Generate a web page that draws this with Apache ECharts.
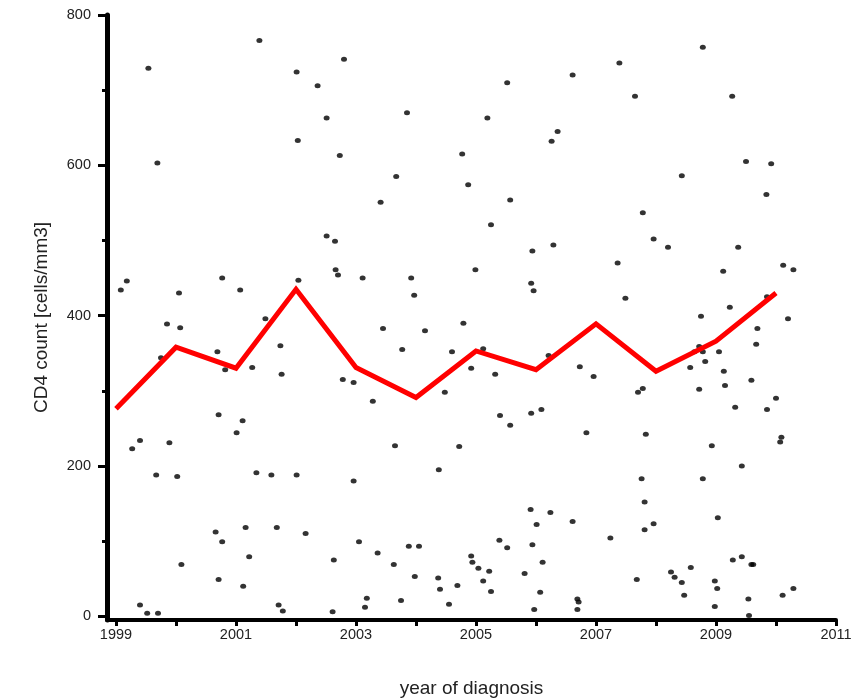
<!DOCTYPE html>
<html>
<head>
<meta charset="utf-8">
<script src="https://cdn.jsdelivr.net/npm/echarts@6/dist/echarts.min.js"></script>
<style>html,body{margin:0;padding:0;background:#fff;}#c{width:863px;height:698px;}</style>
</head>
<body>
<div id="c"></div>
<script>
// Individual patients: [year of diagnosis, CD4 count]
const patients = [
  [1999.54,729],[1999.69,603],[1999.18,446],[1999.08,434],[2000.05,430],[2000.77,450],
  [1999.85,389],[2000.07,384],[2000.69,352],[1999.75,344],[2000.71,268],[1999.40,234],
  [1999.27,223],[1999.89,231],[1999.67,188],[2000.02,186],[2000.66,112],[2000.77,99],
  [2000.09,69],[2000.71,49],[1999.40,15],[1999.52,4],[1999.70,4],
  [2001.39,766],[2002.80,741],[2002.01,724],[2002.36,706],[2002.51,663],[2002.03,633],
  [2002.73,613],[2002.51,506],[2002.65,499],[2002.66,461],[2002.70,454],[2001.07,434],
  [2002.04,447],[2001.49,396],[2000.82,328],[2001.74,360],[2001.27,331],[2001.76,322],
  [2002.78,315],[2001.11,260],[2001.01,244],[2001.34,191],[2001.59,188],[2002.01,188],
  [2001.16,118],[2001.68,118],[2002.16,110],[2001.22,79],[2002.63,75],[2001.12,40],
  [2001.71,15],[2001.78,7],[2002.61,6],
  [2003.85,670],[2004.77,615],[2003.67,585],[2004.87,574],[2003.41,551],[2003.11,450],
  [2003.92,450],[2003.97,427],[2004.99,461],[2003.45,383],[2004.15,380],[2004.79,390],
  [2003.77,355],[2004.60,352],[2002.96,311],[2003.28,286],[2004.92,330],[2004.48,298],
  [2003.65,227],[2004.72,226],[2004.38,195],[2002.96,180],[2003.05,99],[2003.88,93],
  [2004.05,93],[2003.36,84],[2003.63,69],[2004.92,80],[2004.94,72],[2003.98,53],
  [2004.37,51],[2004.40,36],[2004.69,41],[2003.18,24],[2003.15,12],[2003.75,21],[2004.55,16],
  [2005.52,710],[2006.61,720],[2005.19,663],[2006.36,645],[2006.26,632],[2005.57,554],
  [2005.25,521],[2006.29,494],[2005.94,486],[2005.92,443],[2005.96,433],[2005.12,356],
  [2005.32,322],[2006.21,347],[2006.73,332],[2006.96,319],[2005.40,267],[2005.57,254],
  [2005.92,270],[2006.09,275],[2006.84,244],[2005.91,142],[2006.24,138],[2006.01,122],
  [2006.61,126],[2005.39,101],[2005.52,91],[2005.94,95],[2006.11,72],[2005.04,64],
  [2005.22,60],[2005.12,47],[2005.81,57],[2005.25,33],[2006.07,32],[2005.97,9],
  [2006.69,23],[2006.71,19],[2006.69,9],
  [2008.78,757],[2007.39,736],[2007.65,692],[2008.43,586],[2007.78,537],[2007.96,502],
  [2008.20,491],[2007.36,470],[2009.12,459],[2007.49,423],[2008.75,399],[2008.72,359],
  [2008.78,352],[2008.64,352],[2009.05,352],[2008.57,331],[2008.82,339],[2009.13,326],
  [2009.15,307],[2007.78,303],[2007.70,298],[2008.72,302],[2007.83,242],[2008.93,227],
  [2007.76,183],[2008.78,183],[2007.81,152],[2009.03,131],[2007.96,123],[2007.81,115],
  [2007.24,104],[2008.58,65],[2008.25,59],[2008.31,52],[2008.43,45],[2007.68,49],
  [2008.47,28],[2008.98,47],[2009.02,37],[2008.98,13],
  [2009.27,692],[2009.50,605],[2009.92,602],[2009.84,561],[2009.37,491],[2010.12,467],
  [2010.29,461],[2009.23,411],[2009.85,425],[2010.20,396],[2009.69,383],[2009.67,362],
  [2009.59,314],[2009.32,278],[2010.00,290],[2009.85,275],[2010.09,238],[2010.07,232],
  [2009.43,200],[2009.28,75],[2009.43,79],[2009.59,69],[2009.62,69],[2009.54,23],
  [2009.55,1],[2010.11,28],[2010.29,37]
];
// Yearly trend (red line)
const trendYears = [1999,2000,2001,2002,2003,2004,2005,2006,2007,2008,2009,2010];
const trendValues = [276,358,330,435,331,291,353,328,389,326,366,430];
// Axis ticks and labels
const xTickYears = [1999,2000,2001,2002,2003,2004,2005,2006,2007,2008,2009,2010,2011];
const xLabelYears = [1999,2001,2003,2005,2007,2009,2011];
const yMinorTicks = [0,100,200,300,400,500,600,700,800];
const yLabels = [0,200,400,600,800];

const chart = echarts.init(document.getElementById('c'), null, {renderer:'canvas'});
const font = 'Liberation Sans, Arial, sans-serif';
chart.setOption({
  animation: false,
  backgroundColor: '#ffffff',
  grid: {left: 107, right: 27, top: 15, bottom: 78, containLabel: false, outerBoundsMode: 'none'},
  xAxis: {
    type: 'value', min: 1998.85, max: 2011,
    name: 'year of diagnosis', nameLocation: 'middle', nameGap: 59,
    nameTextStyle: {fontFamily: font, fontSize: 19, color: '#222'},
    axisLine: {show: true, onZero: false, lineStyle: {color: '#000', width: 4}},
    axisTick: {show: true, customValues: xTickYears, length: 6, lineStyle: {color: '#000', width: 3}},
    axisLabel: {customValues: xLabelYears, margin: 7, fontFamily: font, fontSize: 14.5, color: '#222',
      formatter: v => String(Math.round(v))},
    splitLine: {show: false}
  },
  yAxis: [{
    type: 'value', min: -5, max: 800,
    name: 'CD4 count [cells/mm3]', nameLocation: 'middle', nameGap: 56, nameRotate: 90,
    nameTextStyle: {fontFamily: font, fontSize: 19, color: '#222'},
    axisLine: {show: true, onZero: false, lineStyle: {color: '#000', width: 5}},
    axisTick: {show: true, customValues: yMinorTicks, length: 5, lineStyle: {color: '#000', width: 3}},
    axisLabel: {customValues: yLabels, margin: 16, fontFamily: font, fontSize: 14.5, color: '#222'},
    splitLine: {show: false}
  }, {
    type: 'value', min: -5, max: 800, position: 'left',
    axisLine: {show: false},
    axisTick: {show: true, customValues: yLabels, length: 9, lineStyle: {color: '#000', width: 3}},
    axisLabel: {show: false},
    splitLine: {show: false}
  }],
  series: [{
    type: 'scatter', data: patients, yAxisIndex: 0,
    symbol: 'circle', symbolSize: [6, 5],
    itemStyle: {color: '#000'}, z: 2
  }, {
    type: 'line', yAxisIndex: 0,
    data: trendYears.map((y, i) => [y, trendValues[i]]),
    showSymbol: false, symbol: 'none',
    lineStyle: {color: '#ff0000', width: 5, join: 'miter'}, z: 5
  }]
});
</script>
</body>
</html>
